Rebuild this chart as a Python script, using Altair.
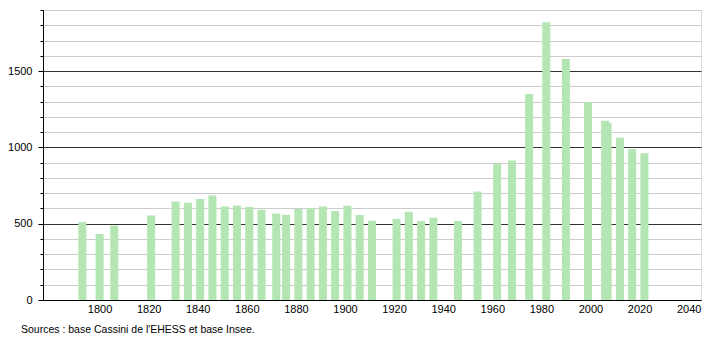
import altair as alt
import pandas as pd

years = [1793, 1800, 1806, 1821, 1831, 1836, 1841, 1846, 1851, 1856, 1861, 1866,
         1872, 1876, 1881, 1886, 1891, 1896, 1901, 1906, 1911, 1921, 1926, 1931,
         1936, 1946, 1954, 1962, 1968, 1975, 1982, 1990, 1999, 2006, 2007, 2012,
         2017, 2022]
population = [510, 433, 487, 554, 645, 637, 662, 684, 613, 618, 610, 592,
              566, 559, 596, 603, 612, 583, 618, 557, 520, 531, 577, 518,
              539, 518, 711, 895, 914, 1349, 1820, 1579, 1298, 1175, 1160, 1063,
              990, 962]
x_ticks = [1800, 1820, 1840, 1860, 1880, 1900, 1920, 1940, 1960, 1980, 2000, 2020, 2040]
y_ticks = list(range(0, 1901, 100))
source_text = ["Sources : base Cassini de l'EHESS et base Insee."]

df = pd.DataFrame({"year": years, "pop": population})
src = pd.DataFrame({"t": source_text})

FONT = "Liberation Sans"

bars = alt.Chart(df).mark_bar(size=8, color="#b3e6b3").encode(
    x=alt.X("year:Q",
            scale=alt.Scale(domain=[1779, 2043], nice=False, zero=False),
            axis=alt.Axis(values=x_ticks, format="d", title=None, grid=False,
                          ticks=False, labelPadding=3, labelFlush=False,
                          domainColor="#000", labelColor="#000",
                          labelFont=FONT, labelFontSize=11)),
    y=alt.Y("pop:Q",
            scale=alt.Scale(domain=[0, 1900], nice=False),
            axis=alt.Axis(values=y_ticks, title=None, grid=True, format="d",
                          gridColor={"condition": {"test": "datum.value % 500 === 0", "value": "#333333"},
                                     "value": "#cccccc"},
                          gridOpacity=1,
                          tickSize={"condition": {"test": "datum.value % 500 === 0", "value": 5},
                                    "value": 3},
                          tickColor="#000", domainColor="#000",
                          labelExpr="datum.value % 500 === 0 ? datum.label : ''",
                          labelPadding=6, labelColor="#000",
                          labelFont=FONT, labelFontSize=11)),
)

note = alt.Chart(src).mark_text(align="left", baseline="middle", font=FONT,
                                fontSize=10.5, color="#000").encode(
    x=alt.value(-22),
    y=alt.value(320),
    text="t:N",
)

chart = alt.layer(bars, note).properties(
    width=658, height=290,
    autosize=alt.AutoSizeParams(type="none"),
    padding={"left": 43, "top": 10, "right": 9, "bottom": 40},
).configure_view(stroke=None).configure(background="white")

chart.save("out.html", embed_options={"renderer": "svg", "actions": False})
